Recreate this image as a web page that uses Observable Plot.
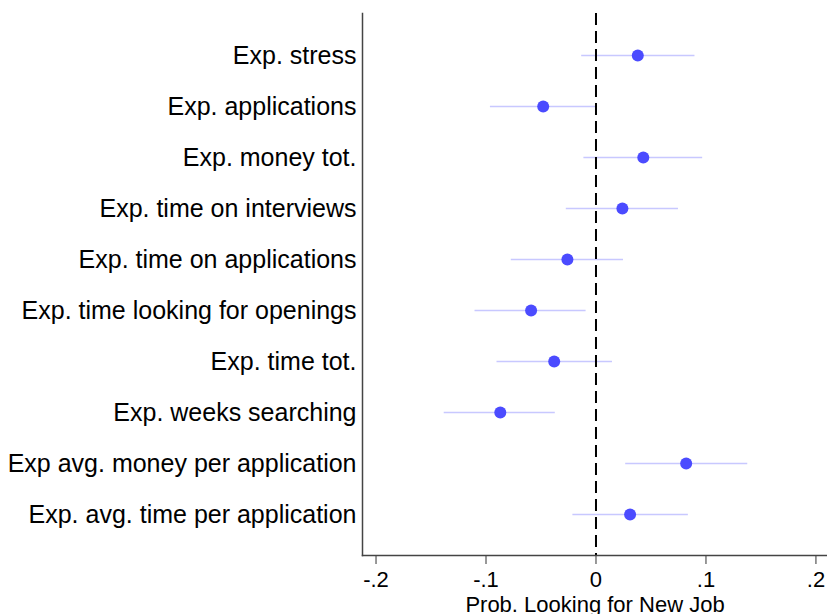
<!DOCTYPE html>
<html>
<head>
<meta charset="utf-8">
<script src="https://cdn.jsdelivr.net/npm/d3@7"></script>
<script src="https://cdn.jsdelivr.net/npm/@observablehq/plot@0.6"></script>
<style>
  body { margin: 0; background: #fff; }
  #chart svg { font-family: "Liberation Sans", Arial, Helvetica, sans-serif; }
</style>
</head>
<body>
<div id="chart"></div>
<script>
// coefficients with 95% CI
const labels = [
  "Exp. stress",
  "Exp. applications",
  "Exp. money tot.",
  "Exp. time on interviews",
  "Exp. time on applications",
  "Exp. time looking for openings",
  "Exp. time tot.",
  "Exp. weeks searching",
  "Exp avg. money per application",
  "Exp. avg. time per application"
];
const coef = [0.038, -0.048, 0.043, 0.024, -0.026, -0.059, -0.038, -0.087, 0.082, 0.031];
const lo   = [-0.013, -0.096, -0.011, -0.027, -0.077, -0.110, -0.090, -0.138, 0.027, -0.021];
const hi   = [0.090, 0.000, 0.097, 0.075, 0.025, -0.009, 0.015, -0.037, 0.138, 0.084];
const xTicks = [-0.2, -0.1, 0, 0.1, 0.2];
const xTickLabels = ["-.2", "-.1", "0", ".1", ".2"];

const data = labels.map((l, i) => ({label: l, b: coef[i], lo: lo[i], hi: hi[i]}));

const chart = Plot.plot({
  width: 827,
  height: 614,
  marginLeft: 362,
  marginRight: 0,
  marginTop: 13,
  marginBottom: 59,
  style: {fontSize: "25px", color: "#000"},
  x: {domain: [-0.2123, 0.2105]},
  y: {domain: labels, padding: 0.75},
  marks: [
    Plot.axisY({tickSize: 0, tickPadding: 6, label: null, fontSize: 25}),
    Plot.axisX({
      ticks: xTicks,
      tickFormat: d => xTickLabels[xTicks.indexOf(d)],
      tickSize: 9,
      tickPadding: 7,
      fontSize: 22,
      stroke: "#333",
      label: "Prob. Looking for New Job",
      labelAnchor: "center",
      labelArrow: "none",
      labelOffset: 56
    }),
    Plot.ruleY(data, {y: "label", x1: "lo", x2: "hi", stroke: "#c8c8ff", strokeWidth: 1.6}),
    Plot.ruleX([0], {stroke: "#000", strokeWidth: 2, strokeDasharray: "12,6"}),
    Plot.dot(data, {x: "b", y: "label", r: 6, fill: "#4b4bff", stroke: null}),
    Plot.frame({anchor: "left", stroke: "#444", strokeWidth: 1.5}),
    Plot.frame({anchor: "bottom", stroke: "#444", strokeWidth: 1.5})
  ]
});

d3.select('#chart').append(() => chart);
</script>
</body>
</html>
